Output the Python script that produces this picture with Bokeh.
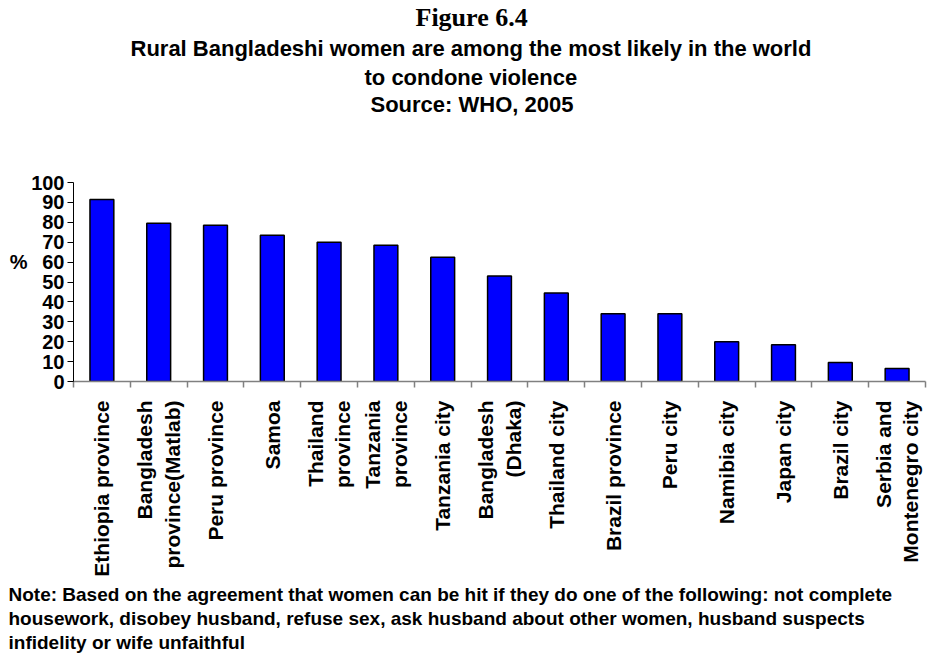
import math
from bokeh.plotting import figure
from bokeh.models import (Range1d, LinearAxis, FixedTicker, Title, ColumnDataSource)
from bokeh.embed import file_html
from bokeh.resources import INLINE

# ---- data ----
categories = ["Ethiopia province", "Bangladesh\nprovince(Matlab)", "Peru province",
              "Samoa", "Thailand\nprovince", "Tanzania\nprovince", "Tanzania city",
              "Bangladesh\n(Dhaka)", "Thailand city", "Brazil province", "Peru city",
              "Namibia city", "Japan city", "Brazil city", "Serbia and\nMontenegro city"]
values = [91.5, 79.5, 78.5, 73.5, 70, 68.5, 62.5, 53, 44.5, 34, 34, 20, 18.5, 9.5, 6.5]
y_ticks = [0, 10, 20, 30, 40, 50, 60, 70, 80, 90, 100]
y_label = "%"
y_label_at = 60

title_fig = "Figure 6.4"
title_lines = ["Rural Bangladeshi women are among the most likely in the world",
               "to condone violence",
               "Source:  WHO, 2005"]
note_lines = ["Note:  Based on the agreement that women can be hit if they do one of the following:  not complete",
              "housework, disobey husband, refuse sex, ask husband about other women, husband suspects",
              "infidelity or wife unfaithful"]

SANS = "Liberation Sans"
SERIF = "Liberation Serif"

n = len(categories)
centers = [i + 0.5 for i in range(n)]        # slot centres on a 0..n scale
bounds = list(range(n + 1))                  # slot boundaries
src = ColumnDataSource(data=dict(x=centers, val=values, cat=categories))

p = figure(width=927, height=655,
           x_range=Range1d(0, n), y_range=Range1d(0, 100),
           output_backend="svg", toolbar_location=None,
           x_axis_location=None, y_axis_location=None,
           min_border_left=73, min_border_right=2,
           min_border_top=182, min_border_bottom=0,
           outline_line_color=None, background_fill_color="white",
           border_fill_color="white")
p.xgrid.visible = False
p.ygrid.visible = False

p.vbar(x="x", top="val", width=0.42, source=src,
       fill_color="#0000FF", line_color="black", line_width=1.5)

# y axis
yax = LinearAxis(ticker=FixedTicker(ticks=y_ticks),
                 major_label_text_font=SANS, major_label_text_font_size="20px",
                 major_label_text_font_style="bold", major_label_text_color="black",
                 major_tick_out=6, major_tick_in=0, minor_tick_out=0, minor_tick_in=0,
                 axis_line_color="black", major_tick_line_color="black",
                 major_label_standoff=3)
p.add_layout(yax, "left")

# "%" label placed beside the 60 tick
pax = LinearAxis(ticker=FixedTicker(ticks=[y_label_at]),
                 major_label_overrides={y_label_at: y_label},
                 axis_line_color=None, major_tick_line_color=None,
                 major_tick_out=0, major_tick_in=0, minor_tick_out=0, minor_tick_in=0,
                 major_label_text_font=SANS, major_label_text_font_size="20px",
                 major_label_text_font_style="bold", major_label_text_color="black",
                 major_label_standoff=1)
p.add_layout(pax, "left")

# x axis: labels at slot centres, ticks at slot boundaries
xax = LinearAxis(ticker=FixedTicker(ticks=centers, minor_ticks=bounds),
                 major_label_overrides={c: lab for c, lab in zip(centers, categories)},
                 major_label_orientation=math.pi / 2,
                 axis_line_color="#808080", axis_line_width=1.5,
                 major_tick_line_color=None, major_tick_out=6, major_tick_in=0,
                 minor_tick_line_color="#808080", minor_tick_line_width=1.5,
                 minor_tick_out=6, minor_tick_in=0,
                 major_label_text_font=SANS, major_label_text_font_size="21px",
                 major_label_text_font_style="bold", major_label_text_color="black",
                 major_label_standoff=13)
p.add_layout(xax, "below")

# ---- titles above (added nearest-first) ----
# blank gap between the source line and the plot frame
p.add_layout(Title(text=" ", align="left", text_font=SANS, text_font_size="22px",
                   standoff=39), "above")
# left-aligned with offsets so each line is centred on the page, not on the frame
for txt, so, off in zip(reversed(title_lines), [0, 0, 4], [297, 291, 57]):
    p.add_layout(Title(text=txt, align="left", offset=off, text_font=SANS,
                       text_font_size="22px", text_font_style="bold",
                       text_color="black", standoff=so), "above")
p.add_layout(Title(text=title_fig, align="left", offset=342, text_font=SERIF,
                   text_font_size="26px", text_font_style="bold", text_color="black",
                   standoff=0), "above")

# ---- note below ----
p.add_layout(Title(text="\n".join(note_lines), align="left", offset=-65, text_font=SANS,
                   text_font_size="19px", text_font_style="bold", text_color="black",
                   text_line_height=1.15, standoff=5), "below")

open("out.html", "w").write(file_html(p, INLINE))
